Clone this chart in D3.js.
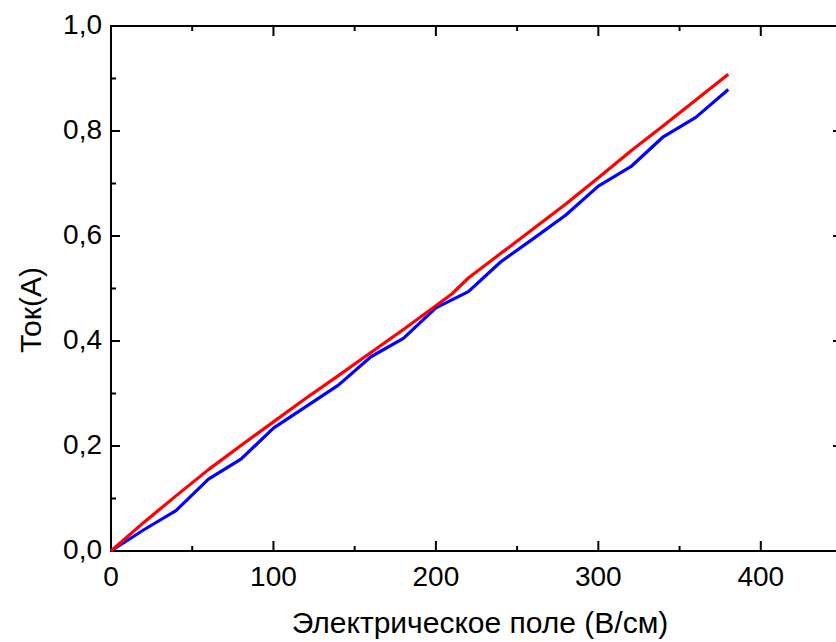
<!DOCTYPE html>
<html>
<head>
<meta charset="utf-8">
<script src="https://cdn.jsdelivr.net/npm/d3@7"></script>
<style>
  body { margin: 0; background: #fff; }
  svg { font-family: "Liberation Sans", Arial, sans-serif; }
</style>
</head>
<body>
<svg id="chart" width="836" height="642"></svg>
<script>
var fieldX = [0, 20, 40, 60, 80, 100, 120, 140, 160, 180, 200, 220, 240, 260, 280, 300, 320, 340, 360, 380];
var blueY = [0, 0.040, 0.077, 0.137, 0.175, 0.234, 0.275, 0.316, 0.370, 0.405, 0.463, 0.494, 0.551, 0.595, 0.640, 0.695, 0.732, 0.789, 0.826, 0.879];

var redX = [0, 20, 40, 60, 80, 100, 120, 140, 160, 180, 200, 210, 220, 240, 260, 280, 300, 320, 340, 360, 380];
var redY = [0, 0.054, 0.105, 0.155, 0.201, 0.246, 0.291, 0.334, 0.378, 0.422, 0.467, 0.490, 0.520, 0.567, 0.614, 0.661, 0.711, 0.762, 0.810, 0.859, 0.908];

var xMajor = [0, 100, 200, 300, 400];
var xMinor = [50, 150, 250, 350, 450];
var yMajor = [0, 0.2, 0.4, 0.6, 0.8, 1.0];
var yMinor = [0.1, 0.3, 0.5, 0.7, 0.9];

var margin = {left: 111, top: 26};
var w = 731, h = 525;

var svg = d3.select('#chart');
var g = svg.append('g').attr('transform', 'translate(' + margin.left + ',' + margin.top + ')');

var x = d3.scaleLinear().domain([0, 450]).range([0, w]);
var y = d3.scaleLinear().domain([0, 1]).range([h, 0]);

var fmt = function(d) { return d3.format('.1f')(d).replace('.', ','); };

// frame
g.append('rect')
  .attr('width', w).attr('height', h)
  .attr('fill', 'none').attr('stroke', '#000').attr('stroke-width', 2);

// ticks, pointing inward on all sides
function ticks(vals, len) {
  vals.forEach(function(v) {
    g.append('line').attr('x1', x(v)).attr('x2', x(v)).attr('y1', h).attr('y2', h - len);
    g.append('line').attr('x1', x(v)).attr('x2', x(v)).attr('y1', 0).attr('y2', len);
  });
}
function yticks(vals, len) {
  vals.forEach(function(v) {
    g.append('line').attr('x1', 0).attr('x2', len).attr('y1', y(v)).attr('y2', y(v));
    g.append('line').attr('x1', w).attr('x2', w - len).attr('y1', y(v)).attr('y2', y(v));
  });
}
ticks(xMajor, 10);
ticks(xMinor, 5);
yticks(yMajor, 9);
yticks(yMinor, 5);
g.selectAll('line').attr('stroke', '#000').attr('stroke-width', 2);

// tick labels
g.selectAll('.xl').data(xMajor).enter().append('text')
  .attr('x', function(d) { return x(d); })
  .attr('y', h + 35)
  .attr('text-anchor', 'middle')
  .attr('font-size', 28)
  .text(function(d) { return d; });

g.selectAll('.yl').data(yMajor).enter().append('text')
  .attr('x', -9)
  .attr('y', function(d) { return y(d) + 8; })
  .attr('text-anchor', 'end')
  .attr('font-size', 28)
  .text(fmt);

// axis titles
svg.append('text')
  .attr('x', 480)
  .attr('y', 633)
  .attr('text-anchor', 'middle')
  .attr('font-size', 30)
  .text('Электрическое поле (В/см)');

svg.append('text')
  .attr('transform', 'translate(41,310) rotate(-90)')
  .attr('text-anchor', 'middle')
  .attr('font-size', 30)
  .text('Ток(А)');

// lines
var line = d3.line().x(function(d) { return x(d[0]); }).y(function(d) { return y(d[1]); });

g.append('path')
  .datum(d3.zip(fieldX, blueY))
  .attr('d', line)
  .attr('fill', 'none').attr('stroke', '#0000ff').attr('stroke-width', 3.2)
  .attr('stroke-linejoin', 'round');

g.append('path')
  .datum(d3.zip(redX, redY))
  .attr('d', line)
  .attr('fill', 'none').attr('stroke', '#ff0000').attr('stroke-width', 3.2)
  .attr('stroke-linejoin', 'round');
</script>
</body>
</html>
